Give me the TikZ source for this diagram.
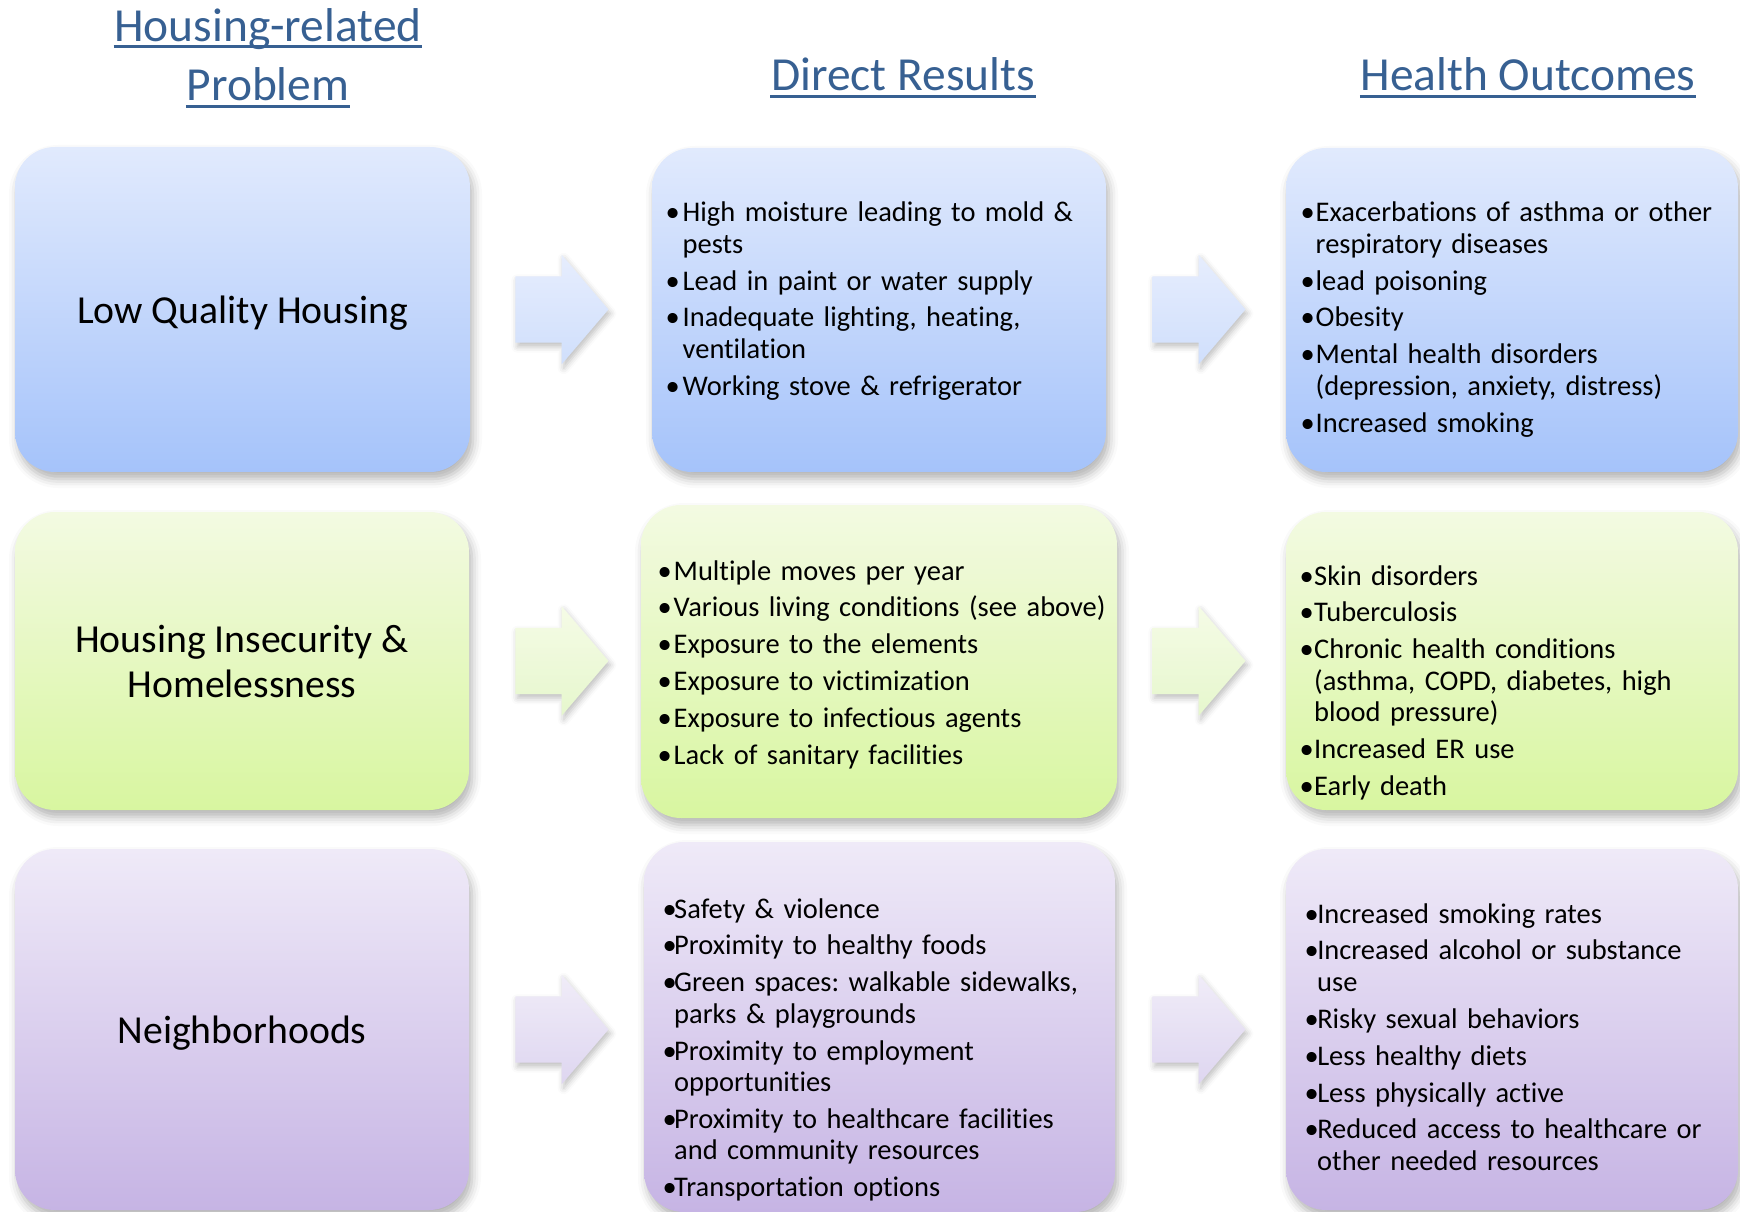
\documentclass[tikz,border=0pt]{standalone}
\usepackage{fontspec}
\setmainfont{Carlito}[Ligatures={NoCommon}]
\usepackage{tikz}
\usetikzlibrary{shapes.arrows}
\usetikzlibrary{shadows.blur}
\usetikzlibrary{positioning}
\usetikzlibrary{calc}

\definecolor{hdrblue}{RGB}{55,96,146}
\definecolor{blueTop}{RGB}{225,234,253}
\definecolor{blueBot}{RGB}{165,195,250}
\definecolor{grnTop}{RGB}{243,250,226}
\definecolor{grnBot}{RGB}{216,246,160}
\definecolor{purTop}{RGB}{239,234,248}
\definecolor{purBot}{RGB}{198,180,228}
\definecolor{blueArrTop}{RGB}{230,237,253}
\definecolor{blueArrBot}{RGB}{208,223,252}
\definecolor{grnArrTop}{RGB}{245,251,230}
\definecolor{grnArrBot}{RGB}{230,247,205}
\definecolor{purArrTop}{RGB}{240,236,248}
\definecolor{purArrBot}{RGB}{222,214,240}

\frenchspacing
\newlength{\bulw}
\newcommand{\itm}[1]{\hangindent=\bulw\hangafter=1\relax\makebox[\bulw][l]{\textbullet}#1\par}

\tikzset{box/.style={rectangle,rounded corners=4mm,inner sep=0pt,blur shadow={shadow xshift=0.3mm,shadow yshift=-0.7mm,shadow blur radius=0.9mm,shadow opacity=30}},
rowblue/.style={top color=blueTop,bottom color=blueBot},
rowgreen/.style={top color=grnTop,bottom color=grnBot},
rowpurple/.style={top color=purTop,bottom color=purBot},
arr1/.style={top color=blueArrTop,bottom color=blueArrBot},
arr2/.style={top color=grnArrTop,bottom color=grnArrBot},
arr3/.style={top color=purArrTop,bottom color=purArrBot},
barrow/.style={single arrow,anchor=west,inner xsep=0pt,inner ysep=3.25mm,minimum height=9.3mm,single arrow head extend=2.15mm,single arrow tip angle=99,blur shadow={shadow xshift=0.2mm,shadow yshift=-0.4mm,shadow blur radius=0.6mm,shadow opacity=25}},
hdr/.style={inner sep=0pt,anchor=base,text=hdrblue,font=\fontsize{13.5pt}{19.3pt}\selectfont},
hline/.style={draw=hdrblue,line width=0.85pt},
title/.style={align=center,font=\fontsize{11.3pt}{12.8pt}\selectfont},
list/.style={anchor=base west,inner sep=0pt,align=left,text width=46mm,font=\fontsize{8.1pt}{8.95pt}\selectfont,execute at begin node={\setlength{\parskip}{1.55pt}\setlength{\bulw}{#1}}}}

\begin{document}
\begin{tikzpicture}[x=0.1mm,y=-0.1mm]
\useasboundingbox (0,0) rectangle (1740,1212);
% column headers
\node[hdr] (hp1) at (268,41.5) {Housing-related};
\node[hdr] (hp2) at (268,101) {Problem};
\node[hdr] (hd) at (903,91) {Direct Results};
\node[hdr] (hh) at (1528,91) {Health Outcomes};
\foreach \n in {hp1,hp2,hd,hh}
\draw[hline] ([yshift=-1.5pt]\n.base west) -- ([yshift=-1.5pt]\n.base east);
% row 1
\node[box,rowblue,title,text depth=0pt,minimum width=45.5mm,minimum height=32.5mm] (p1) at (242.5,309.5) {Low Quality Housing};
\node[box,rowblue,minimum width=45.4mm,minimum height=32.4mm] (d1) at (879,310) {};
\node[box,rowblue,minimum width=45.2mm,minimum height=32.4mm] (h1) at (1512,310) {};
% row 2
\node[box,rowgreen,title,minimum width=45.4mm,minimum height=29.8mm] (p2) at (242,661) {Housing Insecurity \&\\Homelessness};
\node[box,rowgreen,minimum width=47.6mm,minimum height=31.3mm] (d2) at (879,661.5) {};
\node[box,rowgreen,minimum width=45.2mm,minimum height=29.8mm] (h2) at (1512,661) {};
% row 3
\node[box,rowpurple,title,text depth=0pt,minimum width=45.4mm,minimum height=36.1mm] (p3) at (242,1029.5) {Neighborhoods};
\node[box,rowpurple,minimum width=47.1mm,minimum height=37mm] (d3) at (879.5,1027) {};
\node[box,rowpurple,minimum width=45.2mm,minimum height=36.1mm] (h3) at (1512,1029.5) {};
% block arrows
\coordinate (m1) at ($(p1.east)+(44,0)$);
\coordinate (m2) at ($(d1.east)+(45,0)$);
\foreach \row in {1,2,3} {
\node[barrow,arr\row] (a\row1) at (m1 |- p\row) {};
\node[barrow,arr\row] (a\row2) at (m2 |- p\row) {};
}
% lists
\node[list=1.7mm] (l1) at (665,221.7) {\itm{High moisture leading to mold \&\newline pests}\itm{Lead in paint or water supply}\itm{Inadequate lighting, heating,\newline ventilation}\itm{Working stove \& refrigerator}};
\node[list=1.5mm] (r1) at (1300,221.7) {\itm{Exacerbations of asthma or other\newline respiratory diseases}\itm{lead poisoning}\itm{Obesity}\itm{Mental health disorders\newline (depression, anxiety, distress)}\itm{Increased smoking}};
\node[list=1.6mm] (l2) at (657,580) {\itm{Multiple moves per year}\itm{Various living conditions (see above)}\itm{Exposure to the elements}\itm{Exposure to victimization}\itm{Exposure to infectious agents}\itm{Lack of sanitary facilities}};
\node[list=1.45mm] (r2) at (1299,585) {\itm{Skin disorders}\itm{Tuberculosis}\itm{Chronic health conditions\newline (asthma, COPD, diabetes, high\newline blood pressure)}\itm{Increased ER use}\itm{Early death}};
\node[list=1.15mm] (l3) at (662,918) {\itm{Safety \& violence}\itm{Proximity to healthy foods}\itm{Green spaces: walkable sidewalks,\newline parks \& playgrounds}\itm{Proximity to employment\newline opportunities}\itm{Proximity to healthcare facilities\newline and community resources}\itm{Transportation options}};
\node[list=1.25mm] (r3) at (1304,923) {\itm{Increased smoking rates}\itm{Increased alcohol or substance\newline use}\itm{Risky sexual behaviors}\itm{Less healthy diets}\itm{Less physically active}\itm{Reduced access to healthcare or\newline other needed resources}};
\end{tikzpicture}
\end{document}
